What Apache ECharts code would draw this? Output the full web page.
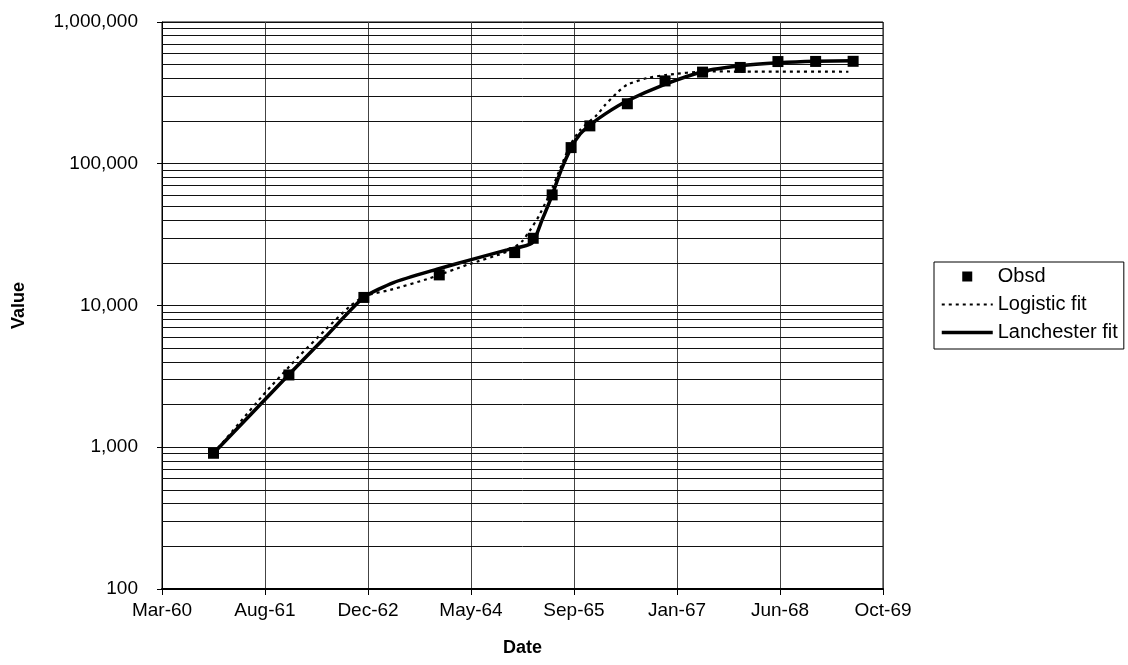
<!DOCTYPE html>
<html>
<head>
<meta charset="utf-8">
<script src="https://cdn.jsdelivr.net/npm/echarts@6/dist/echarts.min.js"></script>
<style>
html,body{margin:0;padding:0;background:#fff;}
#chart{width:1128px;height:665px;}
</style>
</head>
<body>
<div id="chart"></div>
<script>
// ---- Data ----
const obsdDates = ['1960-11-30','1961-12-01','1962-11-30','1963-12-01','1964-12-01','1965-03-01','1965-06-01','1965-09-01','1965-12-01','1966-06-01','1966-12-01','1967-06-01','1967-12-01','1968-06-01','1968-12-01','1969-06-01'];
const obsdValues = [907, 3236, 11400, 16440, 23620, 29800, 60300, 130000, 185000, 265000, 384000, 443000, 478000, 526000, 527000, 528000];

const logisticDates = ['1960-11-30','1961-04-09','1961-07-25','1962-01-11','1962-05-27','1962-09-25','1962-12-07','1963-04-07','1963-10-18','1964-04-14','1964-10-25','1965-01-05','1965-02-15','1965-03-27','1965-05-23','1965-07-11','1965-08-28','1965-10-15','1966-01-05','1966-02-14','1966-04-19','1966-05-30','1966-09-04','1966-12-10','1967-06-22','1967-12-01','1969-05-09'];
const logisticValues = [907, 1510, 2300, 4266, 6730, 9930, 11700, 12880, 15600, 19360, 23990, 28250, 34200, 42360, 62350, 93500, 135800, 173400, 221300, 260400, 323500, 360600, 401800, 423700, 448700, 447000, 445800];

const lanchesterDates = ['1960-11-30','1961-06-01','1961-11-29','1962-06-01','1962-11-29','1963-04-23','1963-11-20','1964-04-30','1964-10-25','1965-02-23','1965-04-13','1965-05-31','1965-07-15','1965-09-02','1965-10-15','1965-12-03','1966-02-14','1966-06-01','1966-11-24','1967-06-06','1967-12-01','1968-06-03','1968-11-29','1969-06-02'];
const lanchesterValues = [907, 1718, 3236, 6095, 11400, 14520, 18030, 20990, 24660, 27540, 40180, 59700, 90600, 130000, 162600, 188400, 224900, 278000, 360600, 447900, 490600, 515000, 528000, 532000];

// x-axis: spreadsheet day serials (days since 1899-12-30)
const xMin = 22000, xMax = 25500, xStep = 500;
const yMin = 100, yMax = 1000000;
const monthNames = ['Jan','Feb','Mar','Apr','May','Jun','Jul','Aug','Sep','Oct','Nov','Dec'];

// ---- helpers ----
const EPOCH = Date.UTC(1899, 11, 30);
function toSerial(s) {
  const p = s.split('-').map(Number);
  return Math.round((Date.UTC(p[0], p[1] - 1, p[2]) - EPOCH) / 86400000);
}
function serialLabel(v) {
  const d = new Date(EPOCH + v * 86400000);
  return monthNames[d.getUTCMonth()] + '-' + String(d.getUTCFullYear() % 100).padStart(2, '0');
}
function pair(dates, vals) { return dates.map((d, i) => [toSerial(d), vals[i]]); }
function commas(v) { return String(Math.round(v)).replace(/\B(?=(\d{3})+(?!\d))/g, ','); }

const minorLines = [];
for (let d = yMin; d < yMax; d *= 10) for (let k = 2; k <= 9; k++) minorLines.push({ yAxis: k * d });

const FONT = '"Liberation Sans", Arial, sans-serif';
const hidden = { color: 'rgba(0,0,0,0)', borderColor: 'rgba(0,0,0,0)', borderWidth: 0 };
const chart = echarts.init(document.getElementById('chart'), null, { renderer: 'canvas' });
chart.setOption({
  animation: false,
  backgroundColor: '#fff',
  grid: { left: 162, right: 245, top: 22, bottom: 76, show: true, borderColor: '#000', borderWidth: 1, backgroundColor: 'transparent' },
  xAxis: {
    type: 'value', min: xMin, max: xMax, interval: xStep,
    name: 'Date', nameLocation: 'middle', nameGap: 50,
    nameTextStyle: { fontFamily: FONT, fontWeight: 'bold', fontSize: 18, color: '#000' },
    axisLine: { show: true, onZero: false, lineStyle: { color: '#000', width: 2 } },
    axisTick: { show: true, length: 6, lineStyle: { color: '#000' } },
    axisLabel: { formatter: serialLabel, fontFamily: FONT, fontSize: 19, color: '#000', margin: 12 },
    splitLine: { show: true, lineStyle: { color: '#444', width: 1 } }
  },
  yAxis: {
    type: 'log', logBase: 10, min: yMin, max: yMax,
    name: 'Value', nameLocation: 'middle', nameGap: 134, nameRotate: 90,
    nameTextStyle: { fontFamily: FONT, fontWeight: 'bold', fontSize: 18, color: '#000' },
    axisLine: { show: true, lineStyle: { color: '#000', width: 1 } },
    axisTick: { show: true, length: 5, lineStyle: { color: '#000' } },
    axisLabel: { formatter: commas, fontFamily: FONT, fontSize: 19, color: '#000', margin: 24 },
    splitLine: { show: true, lineStyle: { color: '#111', width: 1 } }
  },
  legend: {
    orient: 'vertical', left: 934, top: 262,
    padding: [3, 6, 5, 6], itemGap: 5, itemWidth: 51, itemHeight: 10,
    borderColor: '#000', borderWidth: 1, backgroundColor: '#fff',
    textStyle: { fontFamily: FONT, fontSize: 20, color: '#000', lineHeight: 23 },
    data: [
      { name: 'Obsd', icon: 'path://M0,0L10,0L10,10L0,10Z', itemStyle: { color: '#000', opacity: 1 } },
      { name: 'Logistic fit', itemStyle: hidden, lineStyle: { color: '#000', width: 2, type: [3, 4] } },
      { name: 'Lanchester fit', itemStyle: hidden, lineStyle: { color: '#000', width: 3.5, type: 'solid' } }
    ]
  },
  series: [
    {
      name: 'grid', type: 'line', data: [], silent: true, z: 1,
      markLine: {
        silent: true, symbol: ['none', 'none'], label: { show: false },
        lineStyle: { color: '#111', width: 1, type: 'solid' },
        data: minorLines, animation: false
      }
    },
    {
      name: 'Logistic fit', type: 'line', data: pair(logisticDates, logisticValues),
      showSymbol: false, symbol: 'none', smooth: 0.2, z: 3,
      lineStyle: { color: '#000', width: 2.2, type: [3, 4] },
      itemStyle: { color: '#000' }
    },
    {
      name: 'Lanchester fit', type: 'line', data: pair(lanchesterDates, lanchesterValues),
      showSymbol: false, symbol: 'none', smooth: 0.2, z: 4,
      lineStyle: { color: '#000', width: 3.5 },
      itemStyle: { color: '#000' }
    },
    {
      name: 'Obsd', type: 'scatter', data: pair(obsdDates, obsdValues),
      symbol: 'rect', symbolSize: 11, z: 5,
      itemStyle: { color: '#000', opacity: 1 }
    }
  ]
});
</script>
</body>
</html>
